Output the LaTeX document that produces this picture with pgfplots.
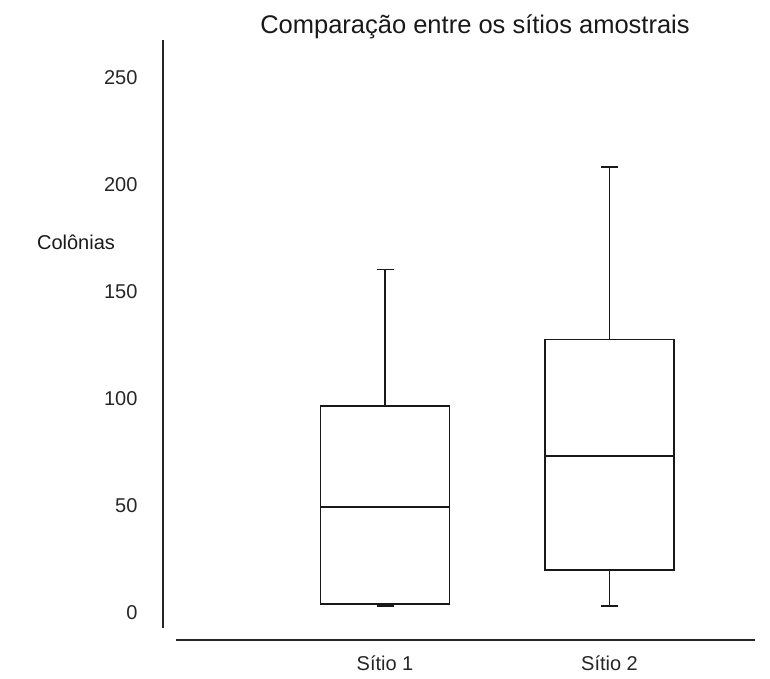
\documentclass[border=0pt]{standalone}
\usepackage{pgfplots}
\pgfplotsset{compat=1.18}
\usepackage{fontspec}
\setmainfont{Liberation Sans}
\pgfplotsset{bx/.style={draw=black!90, line width=1.6pt, mark=none, solid, line join=miter, forget plot}}
\begin{document}
\begin{tikzpicture}
\begin{axis}[
  at={(163pt,38pt)}, anchor=south west,
  scale only axis, width=592pt, height=600pt,
  xmin=0.011, xmax=2.648, ymin=-12.6, ymax=267.8,
  axis line style={draw=none},
  xtick={1,2}, xticklabels={Sítio 1,Sítio 2},
  ytick={0,50,100,150,200,250},
  major tick length=0pt,
  /pgf/number format/assume math mode=true,
  ticklabel style={font=\fontsize{20}{24}\selectfont, text=black!85},
  yticklabel style={anchor=east, xshift=-22pt},
  xticklabel style={anchor=center, yshift=-23pt},
  clip=false,
]
% Sitio 1: lower whisker 3.3, Q1 4.2, median 49.5, Q3 96.7, upper whisker 160.6
\addplot[bx] coordinates {(0.7125,4.2) (1.2875,4.2) (1.2875,96.7) (0.7125,96.7) (0.7125,4.2)} -- cycle;
\addplot[bx] coordinates {(0.7125,49.5) (1.2875,49.5)};
\addplot[bx] coordinates {(1,96.7) (1,160.6)};
\addplot[bx] coordinates {(0.962,160.6) (1.038,160.6)};
\addplot[bx] coordinates {(1,4.2) (1,3.3)};
\addplot[bx] coordinates {(0.962,3.3) (1.038,3.3)};
% Sitio 2: lower whisker 3.4, Q1 20.1, median 73.4, Q3 127.9, upper whisker 208.4
\addplot[bx] coordinates {(1.7125,20.1) (2.2875,20.1) (2.2875,127.9) (1.7125,127.9) (1.7125,20.1)} -- cycle;
\addplot[bx] coordinates {(1.7125,73.4) (2.2875,73.4)};
\addplot[bx] coordinates {(2,127.9) (2,208.4)};
\addplot[bx] coordinates {(1.962,208.4) (2.038,208.4)};
\addplot[bx] coordinates {(2,20.1) (2,3.4)};
\addplot[bx] coordinates {(1.962,3.4) (2.038,3.4)};
\end{axis}
\draw[line width=1.6pt, black!85] (163pt,638pt) -- (163pt,50pt);
\draw[line width=1.6pt, black!85] (176pt,38pt) -- (755pt,38pt);
\node[font=\fontsize{25.5}{30}\selectfont, text=black!90] at (475pt,651pt) {Comparação entre os sítios amostrais};
\node[font=\fontsize{20}{24}\selectfont, text=black!90] at (76pt,436pt) {Colônias};
\pgfresetboundingbox
\useasboundingbox (0pt,0pt) rectangle (770pt,678pt);
\end{tikzpicture}
\end{document}
